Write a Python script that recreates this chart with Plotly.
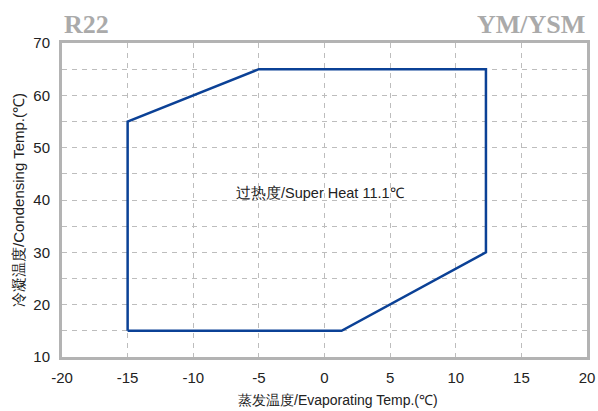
import plotly.graph_objects as go

# operating envelope corners (evaporating, condensing), closed polygon
evap_temp = [-15, -15, -5, 12.3, 12.3, 1.3, -15]
cond_temp = [15, 55, 65, 65, 30, 15, 15]

x_ticks = [-20, -15, -10, -5, 0, 5, 10, 15, 20]
x_labels = ["-20", "-15", "-10", "-5", "0", "5", "10", "15", "20"]
y_ticks = [10, 20, 30, 40, 50, 60, 70]

refrigerant = "R22"
model = "YM/YSM"
note = "过热度/Super Heat 11.1℃"
x_title = "蒸发温度/Evaporating Temp.(℃)"
y_title = "冷凝温度/Condensing Temp.(℃)"

AXIS_GRAY = "#b3b3b3"
GRID_GRAY = "#bdbdbd"
GRID_DASH = "5px,5px"
LINE_BLUE = "#0b4196"
FONT = "Liberation Sans, Arial, sans-serif"
SERIF = "Liberation Serif, Times New Roman, serif"

fig = go.Figure()
fig.add_trace(go.Scatter(
    x=evap_temp, y=cond_temp, mode="lines",
    line=dict(color=LINE_BLUE, width=2.5),
    hoverinfo="skip", showlegend=False,
))

fig.add_annotation(x=-0.3, y=41.3, text=note, showarrow=False,
                   font=dict(size=14.5, color="#222", family=FONT))
fig.add_annotation(x=0.0, xref="paper", xanchor="left", y=1.0, yref="paper",
                   yanchor="bottom", yshift=2, text="<b>%s</b>" % refrigerant,
                   showarrow=False, font=dict(size=26, color="#aaaaaa", family=SERIF))
fig.add_annotation(x=1.0, xref="paper", xanchor="right", y=1.0, yref="paper",
                   yanchor="bottom", yshift=2, text="<b>%s</b>" % model,
                   showarrow=False, font=dict(size=26, color="#aaaaaa", family=SERIF))
# x title sits a little right of centre in the original
fig.add_annotation(x=0.526, xref="paper", y=0, yref="paper", yanchor="top",
                   yshift=-33, text=x_title, showarrow=False,
                   font=dict(size=14, color="#222", family=FONT))

fig.update_layout(
    width=598, height=411,
    margin=dict(l=62, r=11, t=43, b=54),
    plot_bgcolor="white", paper_bgcolor="white",
    font=dict(family=FONT, size=15, color="#222"),
    xaxis=dict(
        range=[-20, 20], tickvals=x_ticks, ticktext=x_labels, showgrid=True,
        gridcolor=GRID_GRAY, griddash=GRID_DASH, gridwidth=1,
        showline=True, linecolor=AXIS_GRAY, linewidth=3, mirror=True,
        zeroline=False, ticks="outside", ticklen=5, tickcolor="white",
        automargin=False, tickfont=dict(size=15),
    ),
    yaxis=dict(
        range=[10, 70], tickvals=y_ticks, showgrid=True,
        gridcolor=GRID_GRAY, griddash=GRID_DASH, gridwidth=1,
        minor=dict(dtick=5, tick0=0, showgrid=True, gridcolor=GRID_GRAY,
                   griddash=GRID_DASH, gridwidth=1),
        showline=True, linecolor=AXIS_GRAY, linewidth=3, mirror=True,
        zeroline=False, ticks="outside", ticklen=6, tickcolor="white",
        automargin=False, tickfont=dict(size=15),
        title=dict(text=y_title, standoff=6, font=dict(size=15)),
    ),
)

# drop the browser's default 8px body margin so the figure fills the window
fig.write_html("out.html", config={"displayModeBar": False},
               post_script="document.body.style.margin='0';")
